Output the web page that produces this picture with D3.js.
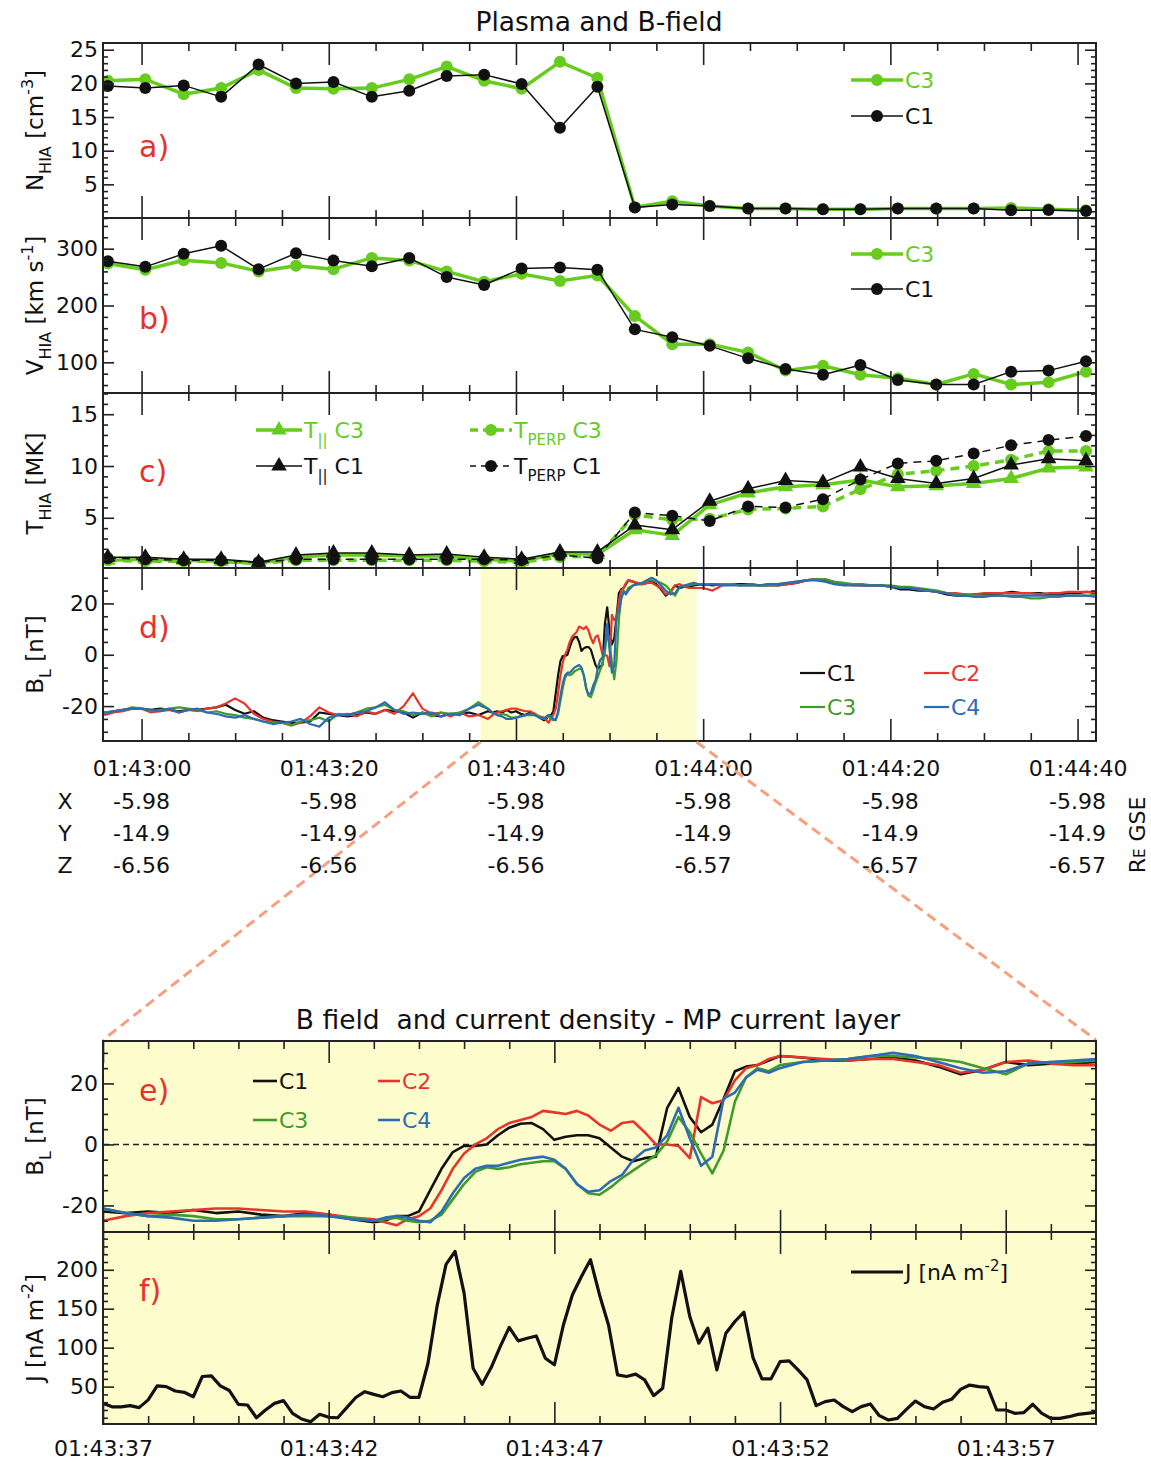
<!DOCTYPE html>
<html>
<head>
<meta charset="utf-8">
<script src="https://cdn.jsdelivr.net/npm/d3@7"></script>
<style>
  body { margin: 0; background: #fff; }
  svg { display: block; }
  text { font-family: "DejaVu Sans", "Liberation Sans", sans-serif; }
</style>
</head>
<body>
<svg id="fig" width="1151" height="1462"></svg>
<script>
// ---------------------------------------------------------------------------
// Data. Times are seconds after 01:43:00 UT.
// ---------------------------------------------------------------------------

// CIS-HIA spin-resolution moments (one sample per spin)
const hiaTimes = [-3.6, 0.4, 4.5, 8.5, 12.5, 16.5, 20.5, 24.6, 28.6, 32.6, 36.6, 40.6, 44.7,
  48.7, 52.7, 56.7, 60.7, 64.8, 68.8, 72.8, 76.8, 80.8, 84.9, 88.9, 92.9, 96.9, 100.9];

const densC3 = [20.4, 20.6, 18.4, 19.3, 22.0, 19.3, 19.2, 19.3, 20.6, 22.5, 20.4, 19.2, 23.2,
  20.8, 1.6, 2.5, 1.8, 1.4, 1.4, 1.3, 1.3, 1.4, 1.4, 1.4, 1.5, 1.3, 1.15];
const densC1 = [19.6, 19.3, 19.7, 18.0, 22.8, 20.0, 20.2, 18.0, 18.9, 21.1, 21.3, 19.9, 13.4,
  19.5, 1.55, 2.0, 1.8, 1.4, 1.4, 1.3, 1.3, 1.4, 1.4, 1.4, 1.15, 1.2, 1.05];

const velC3 = [273.8, 263, 279.6, 275, 260, 270, 264, 283.7, 279, 260, 241.7, 255.7, 243,
  253, 181.6, 132, 132, 117.5, 85.4, 94, 78, 72, 61, 79.6, 61, 65, 83.6];
const velC1 = [277.8, 268, 291, 305, 264, 292, 279, 269, 283.7, 250, 236, 265, 267,
  263, 158, 144, 129, 107, 88.3, 78, 95.3, 69, 61, 61, 83.6, 85.4, 101.7];

const tParC3 = [0.9, 1.0, 0.9, 0.8, 0.6, 1.2, 1.4, 1.4, 1.3, 1.3, 1.0, 0.8, 1.6, 1.45, 3.85,
  3.3, 6.25, 7.4, 8.0, 8.2, 8.65, 8.0, 8.1, 8.3, 8.8, 9.8, 9.9];
const tParC1 = [1.2, 1.2, 1.0, 1.0, 0.7, 1.4, 1.6, 1.6, 1.4, 1.5, 1.2, 1.0, 1.7, 1.7, 4.3,
  3.85, 6.6, 7.8, 8.6, 8.4, 9.9, 8.8, 8.3, 8.8, 10.1, 10.7, 10.5];
const tPerpC3 = [0.9, 0.8, 0.8, 0.8, 0.6, 0.9, 0.9, 0.9, 0.9, 0.9, 0.8, 0.7, 1.2, 1.3, 5.3,
  4.8, 4.9, 5.8, 5.9, 6.1, 7.75, 9.2, 9.55, 10.0, 10.6, 11.45, 11.45];
const tPerpC1 = [1.1, 1.0, 0.9, 0.9, 0.7, 1.0, 1.0, 1.0, 1.0, 1.0, 1.0, 0.9, 1.4, 1.1, 5.5,
  5.2, 4.7, 6.1, 6.0, 6.8, 8.7, 10.25, 10.5, 11.2, 12.0, 12.5, 12.9];

// FGM B_L: 1 s samples before and after the current layer, finer samples across it
const fgmTimes = [
  -4, -3, -2, -1, 0, 1, 2, 3, 4, 5, 6, 7, 8, 9, 10, 11, 12, 13, 14, 15, 16, 17, 18, 19, 20,
  21, 22, 23, 24, 25, 26, 27, 28, 29, 30, 31, 32, 33, 34, 35, 36,
  37, 37.5, 38, 38.5, 39, 39.5, 40, 40.5, 41, 41.5, 42, 42.5, 43,
  43.25, 43.5, 43.75, 44, 44.25, 44.5, 44.75, 45, 45.25, 45.5, 45.75, 46, 46.25, 46.5, 46.75,
  47, 47.25, 47.5, 47.75, 48, 48.25, 48.5, 48.75, 49, 49.25, 49.5, 49.75, 50, 50.25, 50.5,
  50.75, 51, 51.25, 51.5, 51.75, 52,
  52.5, 53, 53.5, 54, 54.5, 55, 55.5, 56, 56.5, 57, 57.5, 58, 58.5, 59,
  60, 61, 62, 63, 64, 65, 66, 67, 68, 69, 70, 71, 72, 73, 74, 75, 76, 77, 78, 79, 80, 81,
  82, 83, 84, 85, 86, 87, 88, 89, 90, 91, 92, 93, 94, 95, 96, 97, 98, 99, 100, 101, 102];

const bC1 = [
  -22.5, -22, -21.5, -21, -21, -21.5, -21, -21.5, -22, -21.5, -21.5, -21, -20.5, -19.5, -21.5,
  -23, -22, -24.5, -25.5, -26, -26.5, -26.5, -26, -22.5, -23, -23.5, -24, -23.5, -22.5, -23,
  -21.5, -22, -22.5, -24.5, -22.5, -23.5, -24, -23, -23, -22.5, -23.5,
  -22, -22.5, -22, -22.5, -21.5, -22.5, -22, -23, -23.5, -22.5, -23, -24.5, -25.5,
  -25, -23.5, -23.5, -22, -15, -8, -2.5, -0.5, -0.5, 0, 3, 5.5, 6.8, 7, 5, 1.5, 2.5, 3, 3, 2,
  -1, -4, -5.5, -4.5, -4, 12, 18.5, 9, 4, 6.5, 15, 24, 25.5, 26, 27.5, 29,
  28.5, 27.5, 27.5, 28, 28.5, 27.5, 25.5, 23, 24.5, 27, 26, 26.5, 26.5, 27,
  27.5, 27, 27.5, 27.5, 27.5, 27.5, 27, 27, 27, 27.5, 28, 29, 29.5, 29, 28, 27.5, 27.5, 27, 27,
  27, 26.5, 25.5, 25.5, 25, 25, 24.5, 23.5, 23, 23, 23.5, 23.5, 23.5, 24, 24.5, 24, 24, 24,
  23.5, 23.5, 24, 24, 24.5, 24];
const bC2 = [
  -23.5, -22.5, -22, -21, -21, -22.5, -22, -21.5, -22.5, -21.5, -22, -21, -20.5, -19, -17,
  -19, -23, -25, -26, -26.5, -27.5, -26.5, -24, -20.5, -22.5, -23.5, -23, -24, -22, -23,
  -21.5, -23, -20, -15, -21, -23, -22.5, -24, -22.5, -24, -23.5,
  -25, -23.5, -22.5, -22, -21.5, -21, -21, -21.5, -22, -22, -23, -24, -24.5,
  -25.5, -26.5, -24.5, -23.5, -21, -15, -8, -3, 0, 2, 5, 7, 8, 9, 11, 10.5, 10, 11, 9.5, 6.5,
  4.5, 7, 7.5, 4, 0, 0, -0.5, -4.5, 15.5, 13.5, 14.5, 21, 25, 26, 28, 29,
  28.5, 28, 27.5, 28, 28, 27, 26, 23.5, 24.5, 27, 27.5, 26.5, 26, 26,
  26, 25, 27, 27.5, 27, 27.5, 27, 27.5, 27, 27.5, 28, 29, 29.5, 29.5, 28, 27.5, 27, 27, 27,
  27, 26.5, 26.5, 26, 25.5, 25, 24.5, 24, 24, 23.5, 23.5, 24, 24, 24, 24, 24, 24, 23.5, 24,
  24, 24.5, 24.5, 24.5, 24.5];
const bC3 = [
  -22.5, -22, -21.5, -20.5, -21, -22, -21.5, -21, -20.5, -21, -21.5, -22.5, -22, -23, -23.5,
  -24.5, -25, -26, -26.5, -26.5, -27.5, -26, -25.5, -24.5, -26, -23, -23.5, -22.5, -21,
  -20.5, -19.5, -21.5, -22, -23.5, -22.5, -24, -22.5, -23, -22.5, -21, -18.5,
  -21, -22.5, -23.5, -23, -23.5, -24.5, -24.5, -24, -23.5, -23.5, -23.5, -24, -25,
  -24.5, -24, -25, -25.5, -25, -23, -18, -13, -9, -7.5, -8, -7.5, -6.5, -6, -5.5, -5.5, -8,
  -13, -16, -16.5, -14, -11, -8.5, -6, -3.5, 1, 9, 4, -3, -9.5, -2, 14, 22, 25, 24, 26,
  27, 27.5, 28, 29, 29, 28.5, 28, 27, 25, 23, 26.5, 27, 27, 27.5,
  27.5, 27.5, 27.5, 27.5, 27, 27, 27, 27, 27.5, 28, 28.5, 29, 29.5, 29.5, 28.5, 28, 27.5,
  27.5, 27, 27, 27, 26.5, 26.5, 26, 25.5, 25, 24, 23.5, 23.5, 23, 23, 23, 23, 22.5, 22.5, 22,
  22, 22.5, 22.5, 23, 23, 23, 23.5];
const bC4 = [
  -23, -22, -21.5, -21, -21, -21.5, -22, -21, -22.5, -21.5, -21, -22.5, -23, -24, -24.5,
  -23.5, -25, -26, -27, -26.5, -26, -25, -27, -28, -24.5, -23.5, -23.5, -22.5, -22, -20.5,
  -18.5, -21.5, -23, -22.5, -23, -22.5, -24, -23, -23.5, -21, -19.5,
  -21, -22.5, -23.5, -24, -25, -25, -24.5, -24, -23.5, -23, -23.5, -24.5, -25,
  -24, -23.5, -24, -25, -25.5, -22, -16, -11, -8, -7, -7, -6, -5, -4.5, -4, -5, -8, -13,
  -15.5, -15, -12, -10, -5, -2, -1, 3, 12, 2, -7, -4, 15, 17, 22, 24.5, 23.5, 25,
  27, 27.5, 28, 29, 30, 29, 27, 25, 23.5, 24, 26.5, 27, 27.5, 28,
  27, 27.5, 27, 27, 27, 27, 27, 27.5, 27.5, 28, 28.5, 29, 29, 28.5, 27.5, 27, 27, 27, 27, 27,
  26.5, 26, 26, 25.5, 25, 24.5, 24, 23, 23, 22.5, 22.5, 23, 23, 23, 23, 23, 23, 23, 23, 23,
  23, 23, 22.5];

// Curlometer current density, 0.2 s cadence starting at 01:43:37
const jStart = 37;
const jCadence = 0.2;
const jValues = [28.5, 24, 24, 25.6, 23, 33, 51, 50, 44.4, 42.7, 37, 63, 63.7, 51, 45, 27.3,
  26.4, 10, 20, 28.5, 32, 15.7, 8.4, 5, 14.4, 10.6, 10, 23, 36, 43.5, 40, 37, 42.3, 44.4,
  36.3, 36.3, 80, 153, 207, 223.6, 170, 73.5, 53, 74.4, 101.4, 126, 108.7, 112, 115, 86.4,
  78, 129, 168, 191.4, 213, 168, 129, 65, 63, 66, 58.6, 38.4, 47.9, 138, 198, 140, 105.7,
  125, 71.4, 118.6, 133.6, 145.6, 87.3, 60, 60, 82, 83, 71.4, 58.6, 25.6, 30.7, 32.8, 24.3,
  17.8, 24.3, 27.7, 12.7, 7.1, 9.3, 20.8, 31.5, 24.3, 21.3, 29.8, 33.7, 46.5, 52, 50, 49,
  20, 20, 15.7, 16.6, 27.3, 15.7, 9.3, 9.3, 11.4, 14.4, 15.7, 17];

// Interval expanded in the lower panels
const layerWindow = [36.2, 59.3];

// Time axes
const overviewTicks = [0, 20, 40, 60, 80, 100];
const overviewLabels = ["01:43:00", "01:43:20", "01:43:40", "01:44:00", "01:44:20", "01:44:40"];
const layerTicks = [37, 42, 47, 52, 57];
const layerLabels = ["01:43:37", "01:43:42", "01:43:47", "01:43:52", "01:43:57"];

// Spacecraft position (RE, GSE) at each labelled time
const posX = ["-5.98", "-5.98", "-5.98", "-5.98", "-5.98", "-5.98"];
const posY = ["-14.9", "-14.9", "-14.9", "-14.9", "-14.9", "-14.9"];
const posZ = ["-6.56", "-6.56", "-6.56", "-6.57", "-6.57", "-6.57"];

// ---------------------------------------------------------------------------
// Drawing
// ---------------------------------------------------------------------------
const INK = "#222";
const LABEL_RED = "#e8312a";
const PLASMA_GREEN = "#66cc1e";
const SC_COLORS = { C1: "#111", C2: "#e8352b", C3: "#3f9b2a", C4: "#2e6bb5" };
const LAYER_BG = "#fdfccd";
const LINK = "#f5a17f";
const TICK_FONT = 22;
const TITLE_FONT = 23;

const svg = d3.select("#fig");
const L = 103, R = 1096;

const xTop = d3.scaleLinear().domain([-4.12, 101.97]).range([L, R]);
const xLayer = d3.scaleLinear().domain([37, 59]).range([L, R]);

// plain ASCII hyphen for negative tick values
const tickFmt = d => String(d);

// text with sub/superscript parts: [[string, ""|"sub"|"sup"], ...]
function rich(sel, parts, size) {
  let cur = 0;
  parts.forEach(([s, k]) => {
    const target = k === "sub" ? size * 0.33 : k === "sup" ? -size * 0.42 : 0;
    sel.append("tspan")
      .attr("dy", (target - cur).toFixed(2))
      .attr("font-size", k ? Math.round(size * 0.7) : size)
      .text(s);
    cur = target;
  });
  return sel;
}

function styleAxis(g) {
  g.select(".domain").remove();
  g.selectAll(".tick line").attr("stroke", INK).attr("stroke-width", 1.6);
  g.selectAll(".tick text").attr("fill", "#111").attr("font-size", TICK_FONT)
    .attr("font-family", '"DejaVu Sans", sans-serif');
}

let clipId = 0;
function makePanel(cfg) {
  const { top, bottom, x, yDomain, yMajor, yMinorStep, xMajor, xMinorStep, bg } = cfg;
  const y = d3.scaleLinear().domain(yDomain).range([bottom, top]);
  const root = svg.append("g");
  if (bg) {
    root.append("rect").attr("x", L).attr("y", top).attr("width", R - L)
      .attr("height", bottom - top).attr("fill", bg);
  }
  const id = "clip" + (clipId++);
  root.append("clipPath").attr("id", id).append("rect")
    .attr("x", L).attr("y", top).attr("width", R - L).attr("height", bottom - top);
  const under = root.append("g").attr("clip-path", `url(#${id})`);
  const data = root.append("g").attr("clip-path", `url(#${id})`);
  const axes = root.append("g");

  const yMinor = d3.range(Math.ceil(yDomain[0] / yMinorStep) * yMinorStep, yDomain[1], yMinorStep)
    .filter(v => !yMajor.some(m => Math.abs(m - v) < 1e-9));
  const xd = x.domain();
  const xMinor = d3.range(Math.ceil(xd[0] / xMinorStep) * xMinorStep, xd[1], xMinorStep)
    .filter(v => !xMajor.some(m => Math.abs(m - v) < 1e-9));

  axes.append("g").attr("transform", `translate(${L},0)`)
    .call(d3.axisLeft(y).tickValues(yMajor).tickSize(-11).tickPadding(5).tickFormat(tickFmt))
    .call(styleAxis);
  axes.append("g").attr("transform", `translate(${L},0)`)
    .call(d3.axisLeft(y).tickValues(yMinor).tickSize(-5).tickFormat(""))
    .call(styleAxis);
  axes.append("g").attr("transform", `translate(${R},0)`)
    .call(d3.axisRight(y).tickValues(yMajor).tickSize(-11).tickFormat(""))
    .call(styleAxis);
  axes.append("g").attr("transform", `translate(${R},0)`)
    .call(d3.axisRight(y).tickValues(yMinor).tickSize(-5).tickFormat(""))
    .call(styleAxis);

  const bottomAxis = d3.axisBottom(x).tickValues(xMajor).tickSize(-22).tickFormat("");
  if (cfg.xLabels) {
    bottomAxis.tickFormat((d, i) => cfg.xLabels[i]).tickPadding(cfg.labelPad);
  }
  axes.append("g").attr("transform", `translate(0,${bottom})`).call(bottomAxis).call(styleAxis);
  axes.append("g").attr("transform", `translate(0,${bottom})`)
    .call(d3.axisBottom(x).tickValues(xMinor).tickSize(-8).tickFormat("")).call(styleAxis);
  axes.append("g").attr("transform", `translate(0,${top})`)
    .call(d3.axisTop(x).tickValues(xMajor).tickSize(-22).tickFormat("")).call(styleAxis);
  axes.append("g").attr("transform", `translate(0,${top})`)
    .call(d3.axisTop(x).tickValues(xMinor).tickSize(-8).tickFormat("")).call(styleAxis);

  axes.append("rect").attr("x", L).attr("y", top).attr("width", R - L)
    .attr("height", bottom - top).attr("fill", "none").attr("stroke", INK).attr("stroke-width", 2);

  // panel letter
  axes.append("text").attr("x", 139).attr("y", cfg.letterY).attr("fill", LABEL_RED)
    .attr("font-size", 30).text(cfg.letter);
  // y-axis title
  const t = axes.append("text").attr("text-anchor", "middle").attr("fill", "#111")
    .attr("transform", `translate(43,${(top + bottom) / 2 + (cfg.titleShift || 0)}) rotate(-90)`);
  rich(t, cfg.yTitle, TITLE_FONT);

  return { y, under, data, axes };
}

const TRI_SIZE = 105;
const DOT_R = 6;

function markers(g, xs, ys, x, y, shape, fill) {
  const sym = shape === "tri"
    ? d3.symbol().type(d3.symbolTriangle).size(TRI_SIZE)
    : d3.symbol().type(d3.symbolCircle).size(Math.PI * DOT_R * DOT_R);
  g.selectAll(null).data(xs.map((t, i) => [t, ys[i]])).join("path")
    .attr("d", sym)
    .attr("transform", d => `translate(${x(d[0])},${y(d[1])})`)
    .attr("fill", fill);
}

function series(g, xs, ys, x, y, color, width, dash) {
  const line = d3.line().x((d, i) => x(xs[i])).y(d => y(d));
  g.append("path").datum(ys).attr("d", line).attr("fill", "none")
    .attr("stroke", color).attr("stroke-width", width)
    .attr("stroke-dasharray", dash || null).attr("stroke-linejoin", "round");
}

function legendEntry(g, x0, x1, cy, color, width, marker, dash, label, labelColor) {
  g.append("line").attr("x1", x0).attr("x2", x1).attr("y1", cy).attr("y2", cy)
    .attr("stroke", color).attr("stroke-width", width).attr("stroke-dasharray", dash || null);
  if (marker) {
    const sym = marker === "tri"
      ? d3.symbol().type(d3.symbolTriangle).size(TRI_SIZE)
      : d3.symbol().type(d3.symbolCircle).size(Math.PI * DOT_R * DOT_R);
    g.append("path").attr("d", sym).attr("transform", `translate(${(x0 + x1) / 2},${cy})`)
      .attr("fill", color);
  }
  const t = g.append("text").attr("x", x1 + 2).attr("y", cy + 8).attr("fill", labelColor || color);
  rich(t, label, 22);
}

// ---- Titles ---------------------------------------------------------------
svg.append("text").attr("x", 599).attr("y", 31).attr("text-anchor", "middle")
  .attr("font-size", 26.5).attr("fill", "#111").text("Plasma and B-field");
svg.append("text").attr("x", 598).attr("y", 1029).attr("text-anchor", "middle")
  .attr("font-size", 26.5).attr("fill", "#111")
  .attr("xml:space", "preserve").style("white-space", "pre")
  .text("B field  and current density - MP current layer");

// ---- a) density -------------------------------------------------------------
const pa = makePanel({
  top: 43, bottom: 218, x: xTop, yDomain: [0, 26], yMajor: [5, 10, 15, 20, 25], yMinorStep: 1,
  xMajor: overviewTicks, xMinorStep: 5, letter: "a)", letterY: 157,
  yTitle: [["N", ""], ["HIA", "sub"], [" [cm", ""], ["-3", "sup"], ["]", ""]]
});
series(pa.data, hiaTimes, densC3, xTop, pa.y, PLASMA_GREEN, 3.5);
markers(pa.data, hiaTimes, densC3, xTop, pa.y, "circle", PLASMA_GREEN);
series(pa.data, hiaTimes, densC1, xTop, pa.y, "#111", 1.5);
markers(pa.data, hiaTimes, densC1, xTop, pa.y, "circle", "#111");
legendEntry(pa.axes, 851, 903, 80, PLASMA_GREEN, 3.5, "circle", null, [["C3", ""]]);
legendEntry(pa.axes, 851, 903, 116, "#111", 1.5, "circle", null, [["C1", ""]]);

// ---- b) velocity ------------------------------------------------------------
const pb = makePanel({
  top: 218, bottom: 393, x: xTop, yDomain: [46, 354], yMajor: [100, 200, 300], yMinorStep: 20,
  xMajor: overviewTicks, xMinorStep: 5, letter: "b)", letterY: 329,
  yTitle: [["V", ""], ["HIA", "sub"], [" [km s", ""], ["-1", "sup"], ["]", ""]]
});
series(pb.data, hiaTimes, velC3, xTop, pb.y, PLASMA_GREEN, 3.5);
markers(pb.data, hiaTimes, velC3, xTop, pb.y, "circle", PLASMA_GREEN);
series(pb.data, hiaTimes, velC1, xTop, pb.y, "#111", 1.5);
markers(pb.data, hiaTimes, velC1, xTop, pb.y, "circle", "#111");
legendEntry(pb.axes, 851, 903, 254, PLASMA_GREEN, 3.5, "circle", null, [["C3", ""]]);
legendEntry(pb.axes, 851, 903, 289, "#111", 1.5, "circle", null, [["C1", ""]]);

// ---- c) temperature -------------------------------------------------------
const pc = makePanel({
  top: 393, bottom: 568, x: xTop, yDomain: [0.15, 17.05], yMajor: [5, 10, 15], yMinorStep: 1,
  xMajor: overviewTicks, xMinorStep: 5, letter: "c)", letterY: 482,
  yTitle: [["T", ""], ["HIA", "sub"], [" [MK]", ""]], titleShift: 3
});
series(pc.data, hiaTimes, tParC3, xTop, pc.y, PLASMA_GREEN, 3.5);
markers(pc.data, hiaTimes, tParC3, xTop, pc.y, "tri", PLASMA_GREEN);
series(pc.data, hiaTimes, tPerpC3, xTop, pc.y, PLASMA_GREEN, 3.5, "9,6");
markers(pc.data, hiaTimes, tPerpC3, xTop, pc.y, "circle", PLASMA_GREEN);
series(pc.data, hiaTimes, tParC1, xTop, pc.y, "#111", 1.5);
markers(pc.data, hiaTimes, tParC1, xTop, pc.y, "tri", "#111");
series(pc.data, hiaTimes, tPerpC1, xTop, pc.y, "#111", 1.5, "8,6");
markers(pc.data, hiaTimes, tPerpC1, xTop, pc.y, "circle", "#111");
legendEntry(pc.axes, 256, 302, 430, PLASMA_GREEN, 3.5, "tri", null, [["T", ""], ["||", "sub"], [" C3", ""]]);
legendEntry(pc.axes, 256, 302, 466, "#111", 1.5, "tri", null, [["T", ""], ["||", "sub"], [" C1", ""]]);
legendEntry(pc.axes, 470, 512, 430, PLASMA_GREEN, 3.5, "circle", "8,5", [["T", ""], ["PERP", "sub"], [" C3", ""]]);
legendEntry(pc.axes, 470, 512, 466, "#111", 1.5, "circle", "6,5", [["T", ""], ["PERP", "sub"], [" C1", ""]]);

// ---- d) B_L overview -----------------------------------------------------
const pd = makePanel({
  top: 568, bottom: 741, x: xTop, yDomain: [-33.6, 33.8], yMajor: [-20, 0, 20], yMinorStep: 5,
  xMajor: overviewTicks, xMinorStep: 5, letter: "d)", letterY: 638,
  xLabels: overviewLabels, labelPad: 19,
  yTitle: [["B", ""], ["L", "sub"], [" [nT]", ""]]
});
pd.under.append("rect").attr("x", xTop(layerWindow[0])).attr("y", 568)
  .attr("width", xTop(layerWindow[1]) - xTop(layerWindow[0])).attr("height", 741 - 568)
  .attr("fill", LAYER_BG);
[["C1", bC1], ["C2", bC2], ["C3", bC3], ["C4", bC4]].forEach(([k, v]) =>
  series(pd.data, fgmTimes, v, xTop, pd.y, SC_COLORS[k], 2.2));
legendEntry(pd.axes, 800, 825, 673, SC_COLORS.C1, 2.2, null, null, [["C1", ""]]);
legendEntry(pd.axes, 924, 949, 673, SC_COLORS.C2, 2.2, null, null, [["C2", ""]]);
legendEntry(pd.axes, 800, 825, 707, SC_COLORS.C3, 2.2, null, null, [["C3", ""]]);
legendEntry(pd.axes, 924, 949, 707, SC_COLORS.C4, 2.2, null, null, [["C4", ""]]);

// ---- connectors from the overview window to the expanded panels ----------
const links = svg.append("g").attr("stroke", LINK).attr("stroke-width", 3)
  .attr("stroke-dasharray", "10,6").attr("fill", "none");
links.append("line").attr("x1", xTop(layerWindow[0])).attr("y1", 742).attr("x2", L).attr("y2", 1040);
links.append("line").attr("x1", xTop(layerWindow[1])).attr("y1", 742).attr("x2", R).attr("y2", 1040);

// ---- spacecraft position rows ----------------------------------------------
const pos = svg.append("g").attr("font-size", TICK_FONT).attr("fill", "#111");
[["X", posX, 809], ["Y", posY, 841], ["Z", posZ, 873]].forEach(([name, vals, by]) => {
  pos.append("text").attr("x", 65).attr("y", by).attr("text-anchor", "middle").text(name);
  vals.forEach((v, i) => {
    pos.append("text").attr("x", xTop(overviewTicks[i])).attr("y", by)
      .attr("text-anchor", "middle").text(v);
  });
});
const re = pos.append("text").attr("text-anchor", "middle")
  .attr("transform", "translate(1145,835) rotate(-90)").attr("font-size", 22);
re.append("tspan").text("R");
re.append("tspan").attr("font-size", 15).text("E");
re.append("tspan").text(" GSE");

// ---- e) B_L across the current layer ---------------------------------------
const pe = makePanel({
  top: 1041, bottom: 1232, x: xLayer, yDomain: [-28.7, 33.9], yMajor: [-20, 0, 20], yMinorStep: 5,
  xMajor: layerTicks, xMinorStep: 1, bg: LAYER_BG, letter: "e)", letterY: 1101,
  yTitle: [["B", ""], ["L", "sub"], [" [nT]", ""]]
});
pe.under.append("line").attr("x1", L).attr("x2", R).attr("y1", pe.y(0)).attr("y2", pe.y(0))
  .attr("stroke", "#222").attr("stroke-width", 1.6).attr("stroke-dasharray", "6,4");
[["C1", bC1], ["C2", bC2], ["C3", bC3], ["C4", bC4]].forEach(([k, v]) =>
  series(pe.data, fgmTimes, v, xLayer, pe.y, SC_COLORS[k], 2.6));
legendEntry(pe.axes, 253, 277, 1081, SC_COLORS.C1, 2.6, null, null, [["C1", ""]]);
legendEntry(pe.axes, 378, 400, 1081, SC_COLORS.C2, 2.6, null, null, [["C2", ""]]);
legendEntry(pe.axes, 253, 277, 1120, SC_COLORS.C3, 2.6, null, null, [["C3", ""]]);
legendEntry(pe.axes, 378, 400, 1120, SC_COLORS.C4, 2.6, null, null, [["C4", ""]]);

// ---- f) current density -----------------------------------------------------
const pf = makePanel({
  top: 1232, bottom: 1424, x: xLayer, yDomain: [2, 248.5], yMajor: [50, 100, 150, 200], yMinorStep: 10,
  xMajor: layerTicks, xMinorStep: 1, bg: LAYER_BG, letter: "f)", letterY: 1301,
  xLabels: layerLabels, labelPad: 16,
  yTitle: [["J [nA m", ""], ["-2", "sup"], ["]", ""]]
});
const jTimes = jValues.map((_, i) => jStart + i * jCadence);
series(pf.data, jTimes, jValues, xLayer, pf.y, "#111", 3.2);
legendEntry(pf.axes, 851, 903, 1272, "#111", 3.2, null, null,
  [["J [nA m", ""], ["-2", "sup"], ["]", ""]], "#111");
</script>
</body>
</html>
